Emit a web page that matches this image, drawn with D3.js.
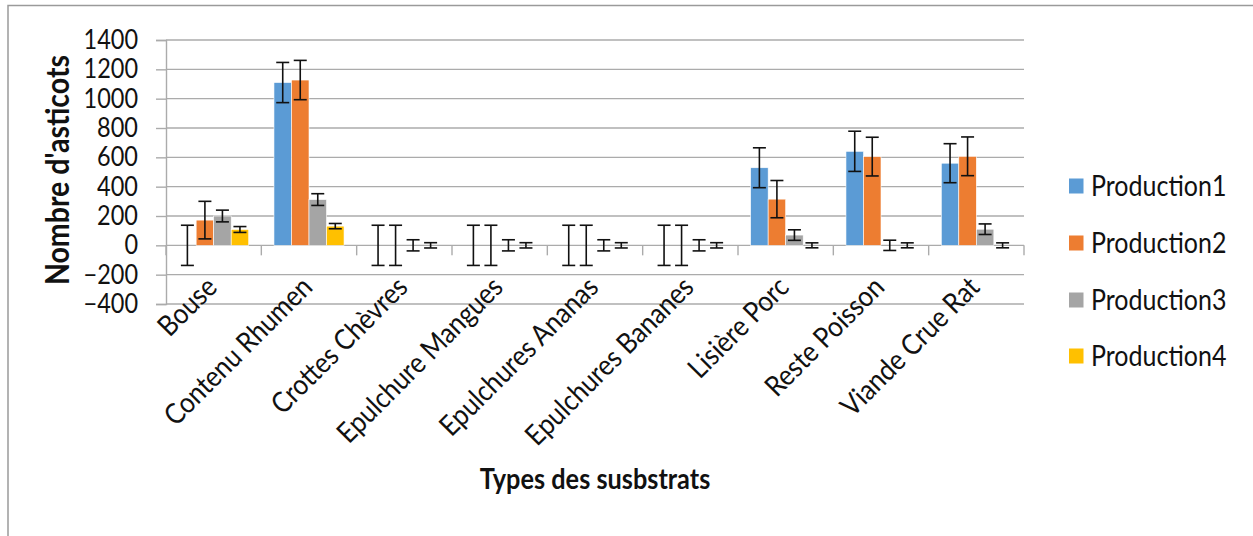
<!DOCTYPE html>
<html>
<head>
<meta charset="utf-8">
<script src="https://cdn.jsdelivr.net/npm/d3@7"></script>
<style>
  html, body { margin: 0; padding: 0; background: #fff; }
  svg { display: block; }
  text { font-family: Lato, "Open Sans", sans-serif; fill: #111; }
</style>
</head>
<body>
<svg id="chart" width="1253" height="536"></svg>
<script>
const categories = ["Bouse", "Contenu Rhumen", "Crottes Chèvres", "Epulchure Mangues", "Epulchures Ananas", "Epulchures Bananes", "Lisière Porc", "Reste Poisson", "Viande Crue Rat"];
const seriesNames = ["Production1", "Production2", "Production3", "Production4"];
const production1 = [0, 1110, 0, 0, 0, 0, 529, 641, 560];
const production2 = [172, 1127, 0, 0, 0, 0, 315, 605, 607];
const production3 = [200, 312, 0, 0, 0, 0, 70, 0, 110];
const production4 = [108, 131, 0, 0, 0, 0, 0, 0, 0];
const error1 = [137, 137, 137, 137, 137, 137, 136, 137, 133];
const error2 = [128, 134, 137, 137, 137, 137, 127, 132, 132];
const error3 = [40, 40, 38, 38, 38, 38, 36, 35, 36];
const error4 = [20, 18, 18, 18, 18, 18, 17, 17, 17];
const yTicks = [-400, -200, 0, 200, 400, 600, 800, 1000, 1200, 1400];
const yTitle = "Nombre d'asticots";
const xTitle = "Types des susbstrats";

const values = [production1, production2, production3, production4];
const errors = [error1, error2, error3, error4];
const colors = ["#5B9BD5", "#ED7D31", "#A5A5A5", "#FFC000"];

const svg = d3.select("#chart");
const plot = { left: 166, right: 1024, top: 40, bottom: 304 };
const stretch = 1.12;

// chart area border
svg.append("rect")
  .attr("x", 8).attr("y", 5.5)
  .attr("width", 1400).attr("height", 700)
  .attr("fill", "none").attr("stroke", "#9a9a9a").attr("stroke-width", 1.5);

const x = d3.scaleBand().domain(categories)
  .range([plot.left, plot.right]).paddingInner(0.265).paddingOuter(0.1325);
const xs = d3.scaleBand().domain(seriesNames).range([0, x.bandwidth()]);
const y = d3.scaleLinear().domain([-400, 1400]).range([plot.bottom, plot.top]);

const gridColor = "#ABABAB";

// gridlines
svg.append("g").selectAll("line").data(yTicks).join("line")
  .attr("x1", plot.left).attr("x2", plot.right)
  .attr("y1", d => y(d)).attr("y2", d => y(d))
  .attr("stroke", gridColor).attr("stroke-width", 1.4);

// y axis
const yAxis = svg.append("g").attr("transform", `translate(${plot.left},0)`)
  .call(d3.axisLeft(y).tickValues(yTicks).tickSize(10).tickPadding(18).tickFormat(d3.format("d")));
yAxis.select(".domain").attr("stroke", gridColor).attr("stroke-width", 1.4);
yAxis.selectAll(".tick line").attr("stroke", gridColor).attr("stroke-width", 1.4);
yAxis.selectAll(".tick text").attr("font-size", 23.5).attr("font-family", "Lato").attr("fill", "#111")
  .attr("transform", `scale(1,${stretch})`);

// x axis at zero (category boundaries as ticks)
const step = x.step();
const boundaries = d3.range(categories.length + 1).map(i => plot.left + i * step);
svg.append("g").selectAll("line").data(boundaries).join("line")
  .attr("x1", d => d).attr("x2", d => d)
  .attr("y1", y(0)).attr("y2", y(0) + 10)
  .attr("stroke", gridColor).attr("stroke-width", 1.4);

// bars
const groups = svg.append("g").selectAll("g").data(seriesNames).join("g")
  .attr("fill", (d, i) => colors[i]);
groups.each(function(s, si) {
  const g = d3.select(this);
  g.selectAll("rect").data(categories).join("rect")
    .attr("x", c => x(c) + xs(s))
    .attr("width", xs.bandwidth())
    .attr("y", (c, ci) => y(Math.max(0, values[si][ci])))
    .attr("height", (c, ci) => Math.abs(y(values[si][ci]) - y(0)))
    .attr("stroke", "#fff").attr("stroke-width", 0.6);
});

// error bars
const cap = 6.5;
const eb = svg.append("g").attr("stroke", "#111").attr("stroke-width", 1.6).attr("fill", "none");
seriesNames.forEach((s, si) => {
  categories.forEach((c, ci) => {
    const cx = x(c) + xs(s) + xs.bandwidth() / 2;
    const v = values[si][ci], e = errors[si][ci];
    const y1 = y(v + e), y2 = y(v - e);
    eb.append("line").attr("x1", cx).attr("x2", cx).attr("y1", y1).attr("y2", y2);
    eb.append("line").attr("x1", cx - cap).attr("x2", cx + cap).attr("y1", y1).attr("y2", y1);
    eb.append("line").attr("x1", cx - cap).attr("x2", cx + cap).attr("y1", y2).attr("y2", y2);
  });
});

// category labels
svg.append("g").selectAll("text").data(categories).join("text")
  .attr("transform", d => `translate(${x(d) + x.bandwidth() / 2 + 5},${289}) rotate(-45) scale(1,${stretch})`)
  .attr("text-anchor", "end")
  .attr("font-size", 25.5)
  .text(d => d);

// axis titles
svg.append("text")
  .attr("transform", `translate(${69},${170}) rotate(-90) scale(1,${stretch})`)
  .attr("text-anchor", "middle")
  .attr("font-size", 28.5).attr("font-weight", "bold")
  .text(yTitle);

svg.append("text")
  .attr("transform", `translate(${(plot.left + plot.right) / 2},${489}) scale(1,${stretch})`)
  .attr("text-anchor", "middle")
  .attr("font-size", 25.3).attr("font-weight", "bold")
  .text(xTitle);

// legend
const legendRows = [186, 243, 300, 356];
const lg = svg.append("g");
seriesNames.forEach((s, i) => {
  lg.append("rect").attr("x", 1069).attr("y", legendRows[i] - 7.5)
    .attr("width", 14.5).attr("height", 15).attr("fill", colors[i]);
  lg.append("text").attr("transform", `translate(1091,${legendRows[i]}) scale(1,${stretch})`)
    .attr("dy", "0.35em").attr("font-size", 25).text(s);
});
</script>
</body>
</html>
